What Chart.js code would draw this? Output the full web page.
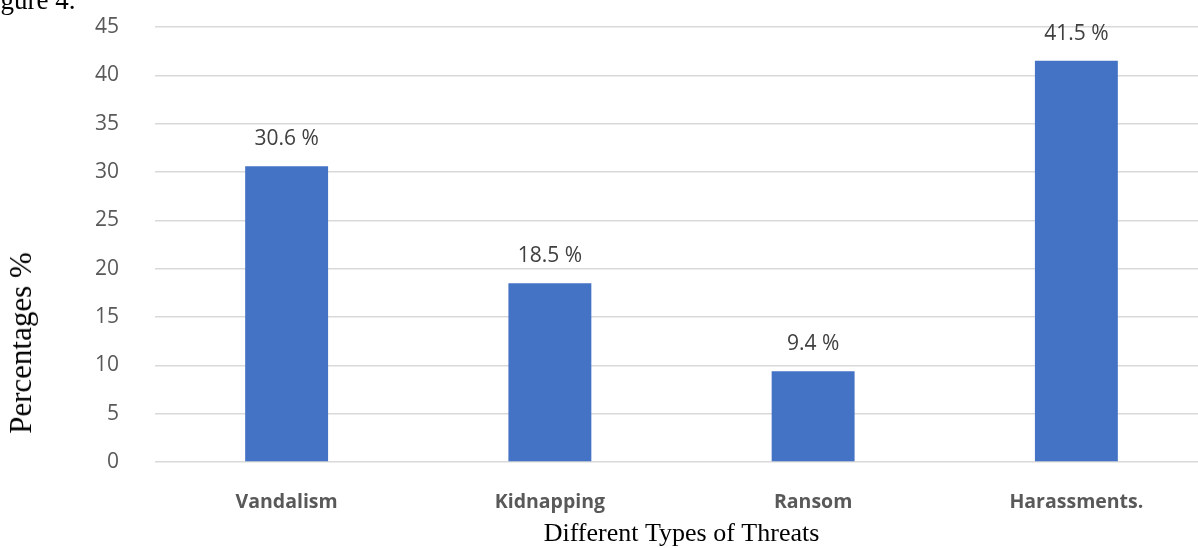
<!DOCTYPE html>
<html lang="en">
  <head>
    <meta charset="UTF-8" />
    <title>threats</title>
    <script src="https://cdn.jsdelivr.net/npm/chart.js@4.4.0/dist/chart.umd.min.js"></script>
    <style>
      html, body { margin: 0; padding: 0; background: #fff; overflow: hidden; }
      #wrap { position: relative; width: 1198px; height: 548px; overflow: hidden; }
      #box { position: absolute; left: 0; top: 0; width: 1210px; height: 548px; }
      #fig { position: absolute; left: -22px; top: -15px; font: 27px "Liberation Serif", serif; color: #000; white-space: nowrap; }
      #ytitle { position: absolute; left: 21px; top: 343px; transform: translate(-50%, -50%) rotate(-90deg);
                font: 31px "Liberation Serif", serif; color: #000; white-space: nowrap; }
    </style>
  </head>
  <body>
    <div id="wrap">
      <div id="box"><canvas id="myChart"></canvas></div>
      <div id="fig">Figure 4.</div>
      <div id="ytitle">Percentages %</div>
    </div>

    <script>
      let threats = ['Vandalism', 'Kidnapping', 'Ransom', 'Harassments.'];
      let percents = [30.6, 18.5, 9.4, 41.5];
      let yTicks = [0, 5, 10, 15, 20, 25, 30, 35, 40, 45];

      // value labels over each bar
      let valueLabels = {
        id: 'valueLabels',
        afterDatasetsDraw(chart) {
          let ctx = chart.ctx;
          let meta = chart.getDatasetMeta(0);
          ctx.save();
          ctx.font = '21px "Open Sans", sans-serif';
          ctx.fillStyle = '#404040';
          ctx.textAlign = 'center';
          ctx.textBaseline = 'middle';
          meta.data.forEach(function(bar, i) {
            ctx.fillText(percents[i] + ' %', bar.x, bar.y - 27);
          });
          ctx.restore();
        }
      };

      let ctx = document.getElementById('myChart').getContext('2d');
      let myChart = new Chart(ctx, {
        type: 'bar',
        data: {
          labels: threats,
          datasets: [{
            data: percents,
            backgroundColor: '#4472C4',
            barPercentage: 0.315,
            categoryPercentage: 1
          }]
        },
        options: {
          responsive: true,
          maintainAspectRatio: false,
          animation: false,
          layout: { padding: { left: 0, right: 2, top: 27, bottom: 0 } },
          plugins: { legend: { display: false }, tooltip: { enabled: false } },
          scales: {
            x: {
              grid: { display: false },
              border: { display: false },
              ticks: {
                color: '#595959',
                font: { family: 'Open Sans', size: 19.5, weight: 'bold' },
                padding: 21
              },
              title: {
                display: true,
                text: 'Different Types of Threats',
                color: '#000',
                font: { family: 'Liberation Serif', size: 26 },
                padding: { top: 0, bottom: -2 }
              },
              afterFit: function(scale) { scale.height = 86; }
            },
            y: {
              min: 0,
              max: 45,
              afterBuildTicks: function(scale) {
                scale.ticks = yTicks.map(function(v) { return { value: v }; });
              },
              grid: { color: '#d9d9d9', lineWidth: 1.5, drawTicks: false },
              border: { display: false },
              ticks: {
                color: '#595959',
                font: { family: 'Open Sans', size: 21 },
                padding: 36
              },
              // tick padding also pads top/bottom in v4, undo that
              afterFit: function(scale) {
                scale.width = 155;
                scale.paddingTop = 12;
                scale.paddingBottom = 12;
              }
            }
          }
        },
        plugins: [valueLabels]
      });
    </script>
  </body>
</html>
